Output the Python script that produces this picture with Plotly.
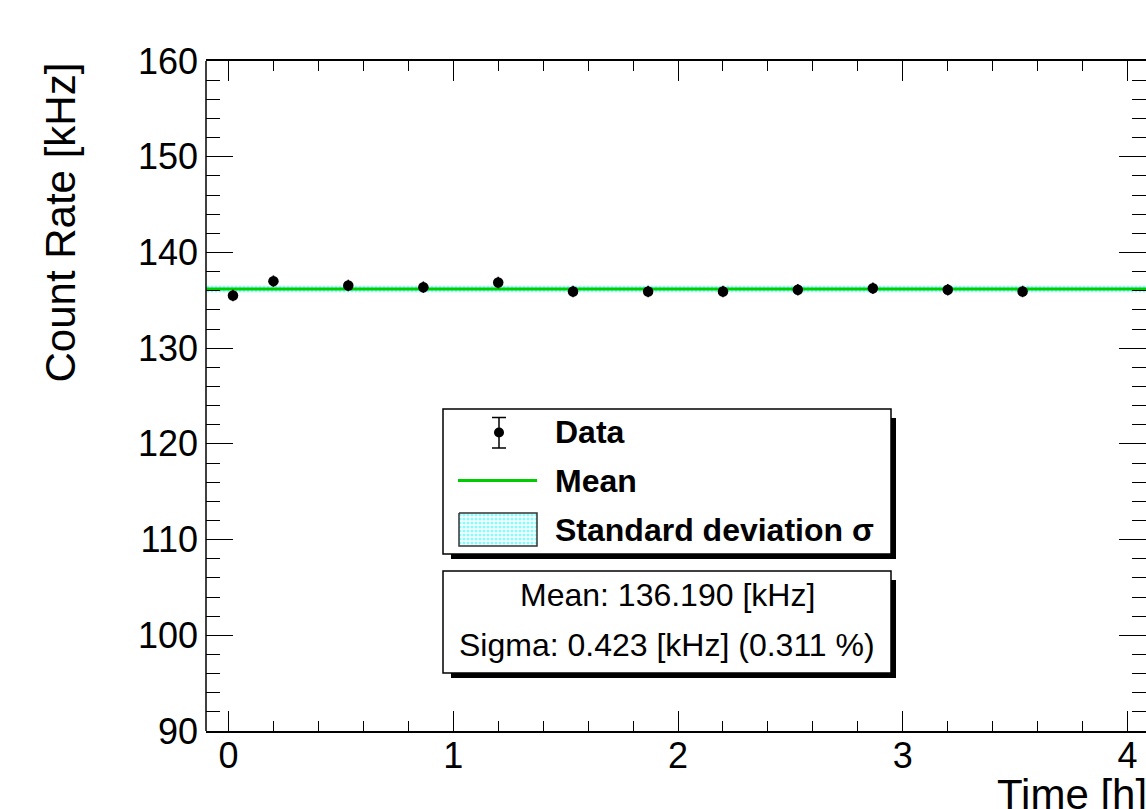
import plotly.graph_objects as go

# ---------------- data ----------------
time_h = [0.02, 0.20, 0.533, 0.867, 1.20, 1.533, 1.867, 2.20, 2.533, 2.867, 3.20, 3.533]
rate_khz = [135.50, 137.00, 136.55, 136.37, 136.86, 135.92, 135.92, 135.92, 136.10, 136.26, 136.10, 135.92]
rate_err = [0.6] * len(time_h)
MEAN = 136.190
SIGMA = 0.423
SIGMA_PCT = 0.311
X_RANGE = [-0.1, 4.082]
Y_RANGE = [90, 160]
x_ticks = [0, 1, 2, 3, 4]
y_ticks = [90, 100, 110, 120, 130, 140, 150, 160]

FONT = "Liberation Sans, Arial, Helvetica, sans-serif"
W, H = 1146, 809
L, R, T, B = 206, 1146, 61, 731


def px(x):
    return (x - L) / (R - L)


def py(y):
    return (B - y) / (B - T)


fig = go.Figure()

# sigma band
fig.add_trace(go.Scatter(x=X_RANGE, y=[MEAN - SIGMA] * 2, mode="lines",
                         line=dict(width=0), showlegend=False, hoverinfo="skip"))
fig.add_trace(go.Scatter(x=X_RANGE, y=[MEAN + SIGMA] * 2, mode="lines",
                         line=dict(width=0), fill="tonexty", fillcolor="rgba(0,0,0,0)",
                         fillpattern=dict(shape=".", fgcolor="#00ffff", bgcolor="rgba(255,255,255,0)",
                                          size=4, solidity=0.45),
                         showlegend=False, hoverinfo="skip"))
# mean line
fig.add_trace(go.Scatter(x=X_RANGE, y=[MEAN] * 2, mode="lines",
                         line=dict(color="#00cc00", width=3), showlegend=False))
# data
fig.add_trace(go.Scatter(x=time_h, y=rate_khz, mode="markers",
                         marker=dict(color="black", size=10.5),
                         error_y=dict(type="data", array=rate_err, color="black", thickness=1.5, width=0),
                         showlegend=False))

# legend key for sigma band (pixel overlay axes)
kx = [459, 537, 537, 459, 459]
ky = [513, 513, 546, 546, 513]
fig.add_trace(go.Scatter(x=kx, y=ky, xaxis="x2", yaxis="y2", mode="lines", fill="toself",
                         fillcolor="rgba(0,0,0,0)",
                         fillpattern=dict(shape=".", fgcolor="#00ffff", bgcolor="white", size=4, solidity=0.45),
                         line=dict(color="#333333", width=1.5), showlegend=False, hoverinfo="skip"))

shapes = []


def rect(x0, y0, x1, y1, fill, line_w=0, layer="below"):
    shapes.append(dict(type="rect", xref="paper", yref="paper",
                       x0=px(x0), x1=px(x1), y0=py(y0), y1=py(y1),
                       fillcolor=fill, line=dict(color="black", width=line_w), layer=layer))


# legend box + shadow
rect(451, 554, 896, 559, "black")
rect(891, 418, 896, 559, "black")
rect(443, 409, 891, 554, "white", 1.5)
# stats box + shadow
rect(451, 673, 896, 678, "black")
rect(891, 580, 896, 678, "black")
rect(443, 571, 891, 673, "white", 1.5)


def line(x0, y0, x1, y1, color="black", w=1.5, layer="above"):
    shapes.append(dict(type="line", xref="paper", yref="paper",
                       x0=px(x0), x1=px(x1), y0=py(y0), y1=py(y1),
                       line=dict(color=color, width=w), layer=layer))


# left frame line (right edge of frame lies outside the picture)
shapes.append(dict(type="line", xref="paper", yref="paper", x0=0, x1=0, y0=0, y1=1,
                   line=dict(color="black", width=1.5), layer="above"))

# Data key
line(499, 417.5, 499, 448)
line(492, 417.5, 506, 417.5)
line(492, 448, 506, 448)
shapes.append(dict(type="circle", xref="paper", yref="paper",
                   x0=px(494), x1=px(504), y0=py(427.5), y1=py(437.5),
                   fillcolor="black", line=dict(color="black", width=0), layer="above"))
# Mean key
line(458, 480.5, 537, 480.5, "#00cc00", 3)

annotations = []


def text(s, x, y, size, xanchor="left", bold=False, angle=0, yanchor="middle"):
    annotations.append(dict(text=("<b>%s</b>" % s) if bold else s, xref="paper", yref="paper",
                            x=px(x), y=py(y), xanchor=xanchor, yanchor=yanchor, showarrow=False,
                            textangle=angle, font=dict(family=FONT, size=size, color="black")))


text("Data", 553, 432, 32, bold=True)
text("Mean", 553, 480.5, 32, bold=True)
text("Standard deviation σ", 553, 529.5, 32, bold=True)
text("Mean: %.3f [kHz]" % MEAN, 667, 595, 32, xanchor="center")
text("Sigma: %.3f [kHz] (%.3f %%)" % (SIGMA, SIGMA_PCT), 667, 645, 32, xanchor="center")
text("Count Rate [kHz]", 60, 222.5, 42, xanchor="center", angle=-90)
text("Time [h]", 1149, 794, 42, xanchor="right")

tick_common = dict(showgrid=False, zeroline=False, linecolor="black", linewidth=1.5,
                   mirror="ticks", ticks="inside", tickcolor="black", tickwidth=1.2,
                   tickfont=dict(family=FONT, size=36, color="black"))

fig.update_layout(
    width=W, height=H,
    margin=dict(l=L, r=W - R, t=T, b=H - B, pad=0),
    paper_bgcolor="white", plot_bgcolor="white",
    showlegend=False,
    xaxis=dict(range=X_RANGE, tickvals=x_ticks, ticklen=20, showline=True, ticklabelstandoff=-8,
               minor=dict(dtick=0.2, ticklen=10, ticks="inside", tickcolor="black", tickwidth=1.2),
               **tick_common),
    yaxis=dict(range=Y_RANGE, tickvals=y_ticks, ticklen=27, showline=False, ticklabelstandoff=7,
               minor=dict(dtick=2, ticklen=14, ticks="inside", tickcolor="black", tickwidth=1.2),
               **tick_common),
    xaxis2=dict(range=[L, R], overlaying="x", visible=False, fixedrange=True),
    yaxis2=dict(range=[B, T], overlaying="y", visible=False, fixedrange=True),
    shapes=shapes,
    annotations=annotations,
)

fig.write_html("out.html")
